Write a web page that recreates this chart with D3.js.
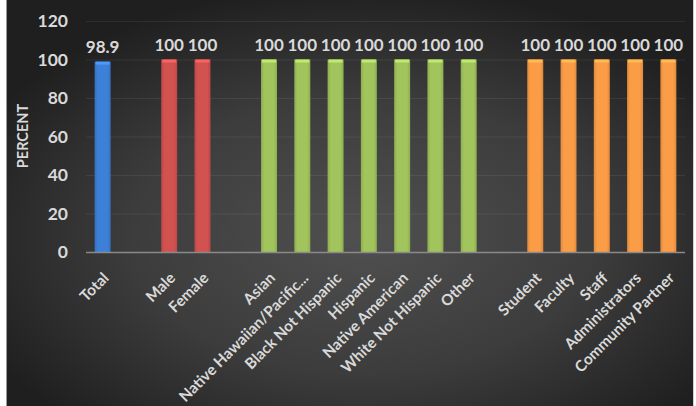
<!DOCTYPE html>
<html>
<head>
<meta charset="utf-8">
<script src="https://cdn.jsdelivr.net/npm/d3@7"></script>
<style>
  html, body { margin: 0; padding: 0; background: #ffffff; }
  svg { display: block; font-family: Lato, "Open Sans", sans-serif; font-weight: bold; }
</style>
</head>
<body>
<svg id="chart" width="696" height="406"></svg>
<script>
// Response rate by group; blank entries are spacer slots between groups
const categories = ["Total", "", "Male", "Female", "", "Asian", "Native Hawaiian/Pacific...",
  "Black Not Hispanic", "Hispanic", "Native American", "White Not Hispanic", "Other", "",
  "Student", "Faculty", "Staff", "Administrators", "Community Partner"];
const values = [98.9, null, 100, 100, null, 100, 100, 100, 100, 100, 100, 100, null,
  100, 100, 100, 100, 100];
const groups = ["total", null, "sex", "sex", null, "race", "race", "race", "race", "race",
  "race", "race", null, "role", "role", "role", "role", "role"];
const yTicks = [0, 20, 40, 60, 80, 100, 120];
const groupColors = { total: "#3d80d8", sex: "#d25250", race: "#a1c45c", role: "#fb9c46" };

const svg = d3.select("#chart");
const W = 696, H = 406;
const plot = { left: 86, right: 685, top: 21, bottom: 252 };

const defs = svg.append("defs");
const bg = defs.append("radialGradient").attr("id", "bgGrad")
  .attr("cx", "52%").attr("cy", "58%").attr("r", "62%");
bg.append("stop").attr("offset", "0%").attr("stop-color", "#505050");
bg.append("stop").attr("offset", "55%").attr("stop-color", "#3c3c3c");
bg.append("stop").attr("offset", "100%").attr("stop-color", "#1f1f1f");

// per-colour bar shading: slightly darker edges for a rounded look
Object.entries(groupColors).forEach(([k, c]) => {
  const g = defs.append("linearGradient").attr("id", "bar-" + k)
    .attr("x1", "0%").attr("x2", "100%").attr("y1", "0%").attr("y2", "0%");
  const base = d3.color(c);
  g.append("stop").attr("offset", "0%").attr("stop-color", base.darker(0.35));
  g.append("stop").attr("offset", "20%").attr("stop-color", base);
  g.append("stop").attr("offset", "80%").attr("stop-color", base);
  g.append("stop").attr("offset", "100%").attr("stop-color", base.darker(0.35));
});

// chart area frame
svg.append("rect").attr("x", 0).attr("y", 0).attr("width", W).attr("height", H).attr("fill", "#ffffff");
svg.append("rect").attr("x", 6).attr("y", 0).attr("width", 687).attr("height", H)
  .attr("fill", "url(#bgGrad)");
svg.append("line").attr("x1", 6.5).attr("x2", 6.5).attr("y1", 0).attr("y2", H)
  .attr("stroke", "#9a9a9a").attr("stroke-width", 1);
svg.append("line").attr("x1", 693.5).attr("x2", 693.5).attr("y1", 0).attr("y2", H)
  .attr("stroke", "#cfcfcf").attr("stroke-width", 1);

const x = d3.scaleBand().domain(d3.range(categories.length))
  .range([plot.left, plot.right]).paddingInner(0.52).paddingOuter(0.26);
const y = d3.scaleLinear().domain([0, 120]).range([plot.bottom, plot.top]);

// gridlines
svg.append("g").selectAll("line").data(yTicks.filter(t => t > 0)).join("line")
  .attr("x1", plot.left).attr("x2", plot.right)
  .attr("y1", d => y(d) + 0.5).attr("y2", d => y(d) + 0.5)
  .attr("stroke", "#ffffff").attr("stroke-opacity", 0.07).attr("stroke-width", 1);

// y axis (labels only)
const yAxis = svg.append("g").attr("transform", `translate(${plot.left - 18},0)`)
  .call(d3.axisLeft(y).tickValues(yTicks).tickSize(0).tickPadding(0));
yAxis.select(".domain").remove();
yAxis.selectAll("text").attr("fill", "#d9d9d9").attr("font-size", 17.5)
  .attr("font-family", "Lato, sans-serif").attr("font-weight", "bold");

// bars
const data = categories.map((c, i) => ({ i, c, v: values[i], g: groups[i] })).filter(d => d.v != null);
const bars = svg.append("g");
bars.selectAll("rect.bar").data(data).join("rect").attr("class", "bar")
  .attr("x", d => x(d.i)).attr("width", x.bandwidth())
  .attr("y", d => y(d.v)).attr("height", d => y(0) - y(d.v))
  .attr("fill", d => `url(#bar-${d.g})`);
bars.selectAll("rect.cap").data(data).join("rect").attr("class", "cap")
  .attr("x", d => x(d.i) + 1).attr("width", x.bandwidth() - 2)
  .attr("y", d => y(d.v)).attr("height", 3)
  .attr("fill", d => d3.color(groupColors[d.g]).brighter(0.5));

// x axis baseline
svg.append("line").attr("x1", plot.left).attr("x2", plot.right)
  .attr("y1", y(0) + 0.5).attr("y2", y(0) + 0.5)
  .attr("stroke", "#8a8a8a").attr("stroke-width", 1.5);

// value labels
svg.append("g").selectAll("text").data(data).join("text")
  .attr("x", d => x(d.i) + x.bandwidth() / 2).attr("y", d => y(d.v) - 9)
  .attr("text-anchor", "middle").attr("fill", "#d9d9d9").attr("font-size", 17)
  .text(d => d.v);

// category labels, rotated
const xAxis = svg.append("g").attr("transform", `translate(0,${plot.bottom})`)
  .call(d3.axisBottom(x).tickSize(0).tickFormat(i => categories[i]));
xAxis.select(".domain").remove();
xAxis.selectAll(".tick text")
  .attr("fill", "#d9d9d9").attr("font-size", 15.3)
  .attr("font-family", "Lato, sans-serif").attr("font-weight", "bold")
  .attr("text-anchor", "end").attr("dy", 0).attr("y", 0)
  .attr("transform", "translate(7,27) rotate(-45)");

// axis title
svg.append("text").attr("transform", "translate(28,136) rotate(-90)")
  .attr("text-anchor", "middle").attr("fill", "#d9d9d9").attr("font-size", 14.5)
  .text("PERCENT");
</script>
</body>
</html>
